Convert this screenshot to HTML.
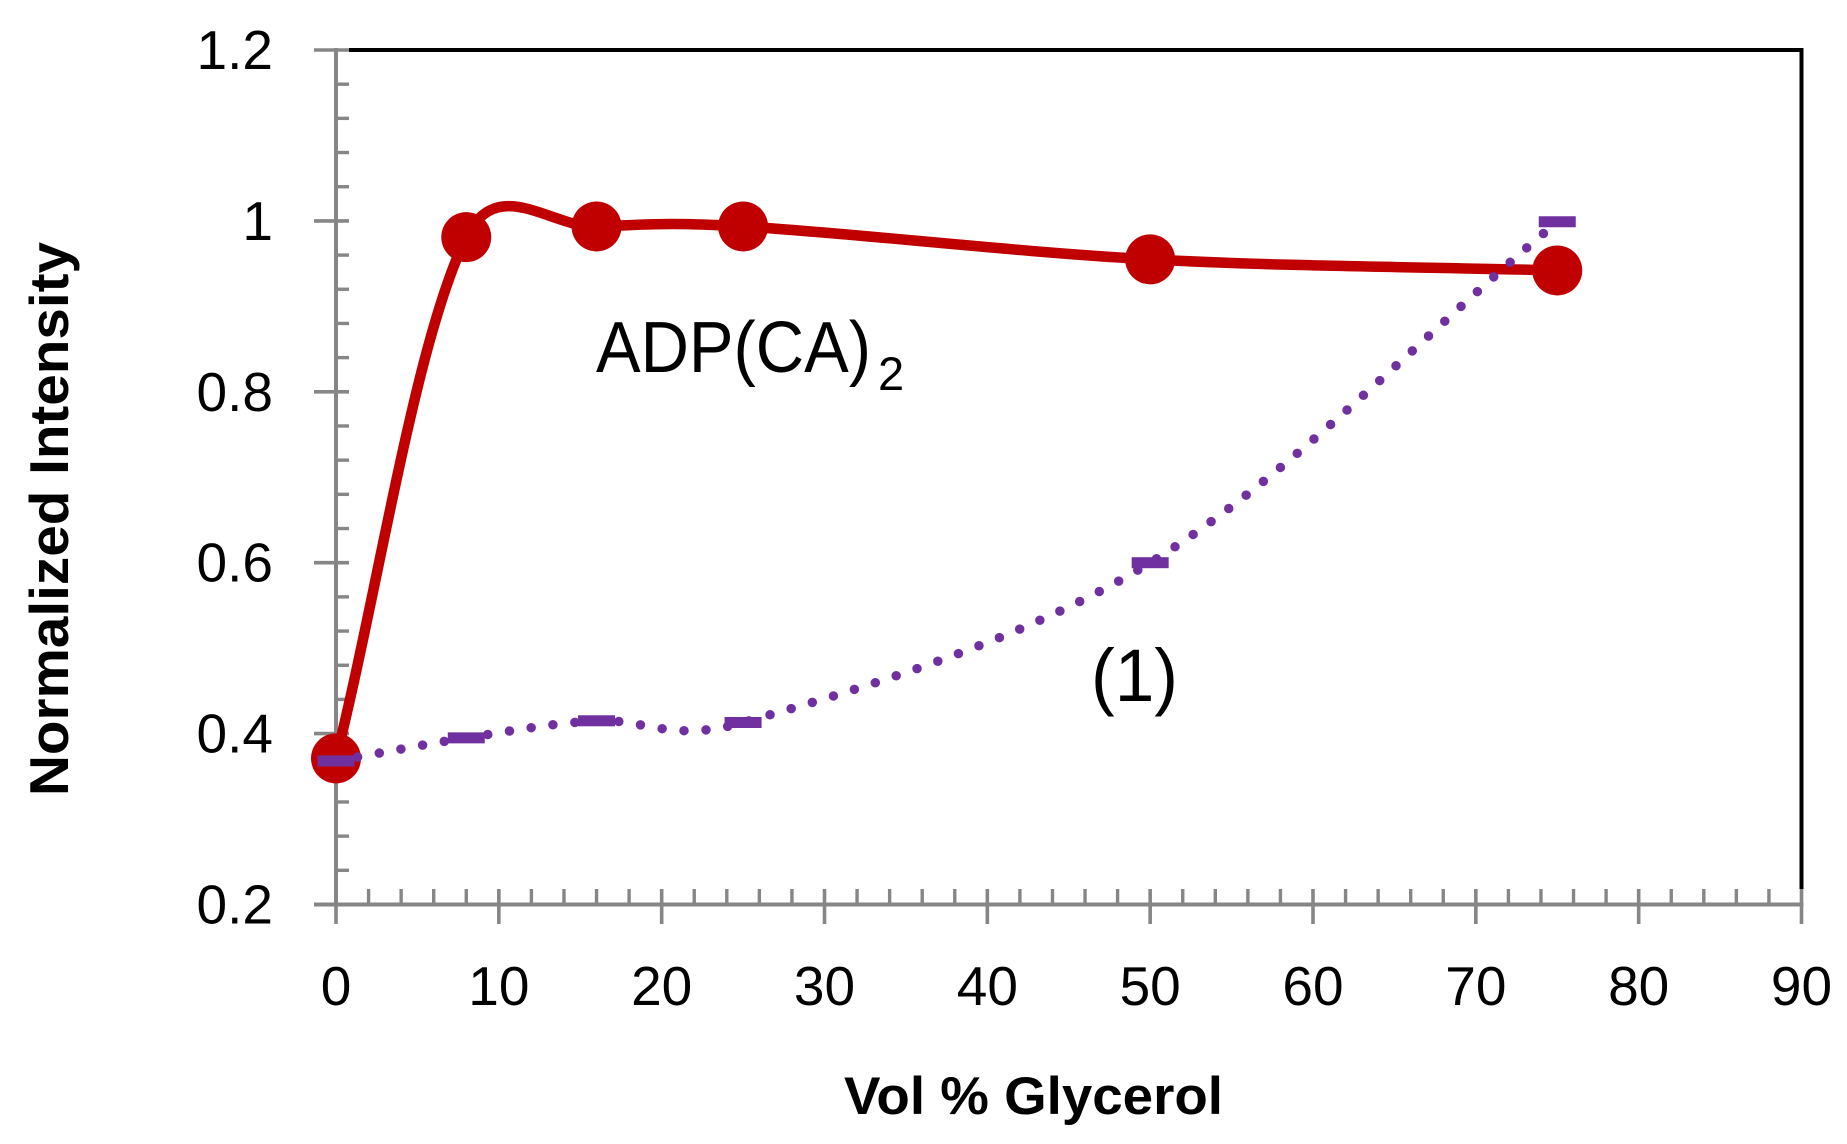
<!DOCTYPE html>
<html lang="en">
<head>
<meta charset="utf-8">
<title>Normalized Intensity vs Vol % Glycerol</title>
<style>
html,body{margin:0;padding:0;background:#fff;}
svg{display:block;}
text{font-family:"Liberation Sans",sans-serif;fill:#000;}
</style>
</head>
<body>
<svg id="chart" xmlns="http://www.w3.org/2000/svg" width="1847" height="1144" viewBox="0 0 1847 1144">
  <rect x="0" y="0" width="1847" height="1144" fill="#ffffff"/>
  <text transform="translate(68 519) rotate(-90)" text-anchor="middle" font-size="55" font-weight="bold" textLength="554" lengthAdjust="spacingAndGlyphs">Normalized Intensity</text>
  <text x="844" y="1114" font-size="53" font-weight="bold" textLength="379" lengthAdjust="spacingAndGlyphs">Vol % Glycerol</text>
  <text x="596" y="372" font-size="72" textLength="275" lengthAdjust="spacingAndGlyphs">ADP(CA)</text>
  <text x="878" y="390" font-size="47">2</text>
  <text x="1091" y="701" font-size="74" textLength="87" lengthAdjust="spacingAndGlyphs">(1)</text>
</svg>
<script>
const xValues = [0, 8, 16, 25, 50, 75];
const adpValues = [0.371, 0.981, 0.9935, 0.9935, 0.955, 0.942];
const compoundValues = [0.368, 0.395, 0.415, 0.413, 0.6, 0.999];
const xTickLabels = ["0", "10", "20", "30", "40", "50", "60", "70", "80", "90"];
const yTickLabels = ["0.2", "0.4", "0.6", "0.8", "1", "1.2"];

const svg = document.getElementById('chart');
const NS = 'http://www.w3.org/2000/svg';
const xMin = Number(xTickLabels[0]);
const xMax = Number(xTickLabels[xTickLabels.length - 1]);
const yMin = Number(yTickLabels[0]);
const yMax = Number(yTickLabels[yTickLabels.length - 1]);
const AXIS_GREY = '#868686';

function xScale(v) { return 336 + (v - xMin) / (xMax - xMin) * (1801.5 - 336); }
function yScale(v) { return 904.5 - (v - yMin) / (yMax - yMin) * (904.5 - 50); }

function mk(tag, attrs, text) {
  const el = document.createElementNS(NS, tag);
  for (const k in attrs) el.setAttribute(k, attrs[k]);
  if (text !== undefined) el.textContent = text;
  svg.appendChild(el);
  return el;
}

function smoothPath(pts) {
  const d = (a, b) => Math.hypot(b[0] - a[0], b[1] - a[1]);
  const n = pts.length;
  let out = 'M' + pts[0][0] + ' ' + pts[0][1];
  const weight = (own, other) => (1 / 6) * Math.pow(2 * own / (own + other), 0.35);
  for (let i = 0; i < n - 1; i++) {
    const p1 = pts[i], p2 = pts[i + 1];
    const seg = d(p1, p2);
    let c1, c2;
    if (i === 0) {
      c1 = [p1[0] + (p2[0] - p1[0]) / 3, p1[1] + (p2[1] - p1[1]) / 3];
    } else {
      const p0 = pts[i - 1];
      const k = weight(seg, d(p0, p1));
      c1 = [p1[0] + (p2[0] - p0[0]) * k, p1[1] + (p2[1] - p0[1]) * k];
    }
    if (i === n - 2) {
      c2 = [p2[0] - (p2[0] - p1[0]) / 3, p2[1] - (p2[1] - p1[1]) / 3];
    } else {
      const p3 = pts[i + 2];
      const k = weight(seg, d(p2, p3));
      c2 = [p2[0] - (p3[0] - p1[0]) * k, p2[1] - (p3[1] - p1[1]) * k];
    }
    out += ' C' + c1[0] + ' ' + c1[1] + ' ' + c2[0] + ' ' + c2[1] + ' ' + p2[0] + ' ' + p2[1];
  }
  return out;
}

/* top and right frame */
const frameTop = mk('line', {x1: 349, y1: yScale(yMax), x2: xScale(xMax) + 2, y2: yScale(yMax), stroke: '#000', 'stroke-width': 4});


const frameRight = mk('line', {x1: xScale(xMax), y1: yScale(yMax), x2: xScale(xMax), y2: 889, stroke: '#000', 'stroke-width': 4});



/* y axis */
const yAxis = mk('line', {x1: xScale(xMin), y1: yScale(yMax) - 2, x2: xScale(xMin), y2: yScale(yMin) + 2, stroke: AXIS_GREY, 'stroke-width': 4});


yTickLabels.forEach((label, i) => {
  const v = Number(label);
  const tick = mk('line', {x1: 314, y1: yScale(v), x2: 349, y2: yScale(v), stroke: AXIS_GREY, 'stroke-width': 3.6});
  
  
  const t = mk('text', {x: 273, y: yScale(v) + 19, 'text-anchor': 'end', 'font-size': 55}, label);
  
  
  if (i < yTickLabels.length - 1) {
    const step = (Number(yTickLabels[i + 1]) - v) / 5;
    for (let m = 1; m < 5; m++) {
      const minor = mk('line', {x1: 336, y1: yScale(v + step * m), x2: 349, y2: yScale(v + step * m), stroke: AXIS_GREY, 'stroke-width': 3.4});
      
      
    }
  }
});

/* x axis */
const xAxis = mk('line', {x1: 314, y1: yScale(yMin), x2: xScale(xMax) + 2, y2: yScale(yMin), stroke: AXIS_GREY, 'stroke-width': 4});


xTickLabels.forEach((label, i) => {
  const v = Number(label);
  const tick = mk('line', {x1: xScale(v), y1: 889, x2: xScale(v), y2: 924, stroke: AXIS_GREY, 'stroke-width': 3.6});
  
  
  const t = mk('text', {x: xScale(v), y: 1005, 'text-anchor': 'middle', 'font-size': 55}, label);
  
  
  if (i < xTickLabels.length - 1) {
    const step = (Number(xTickLabels[i + 1]) - v) / 5;
    for (let m = 1; m < 5; m++) {
      const minor = mk('line', {x1: xScale(v + step * m), y1: 889, x2: xScale(v + step * m), y2: 904, stroke: AXIS_GREY, 'stroke-width': 3.4});
      
      
    }
  }
});

/* ADP(CA)2 series */
const adpPts = xValues.map((x, i) => [xScale(x), yScale(adpValues[i])]);
const adpLine = mk('path', {d: smoothPath(adpPts), fill: 'none', stroke: '#c00000', 'stroke-width': 10.5, 'stroke-linecap': 'round', 'stroke-linejoin': 'round'});


adpPts.forEach((p) => {
  const dot = mk('circle', {cx: p[0], cy: p[1], r: 25, fill: '#c00000'});
  
  
});

/* compound (1) series */
const compoundPts = xValues.map((x, i) => [xScale(x), yScale(compoundValues[i])]);
const compoundLine = mk('path', {d: smoothPath(compoundPts), fill: 'none', stroke: '#7030a0', 'stroke-width': 9.5, 'stroke-linecap': 'round', 'stroke-dasharray': '0 22'});


compoundPts.forEach((p) => {
  const dash = mk('rect', {x: p[0] - 18.5, y: p[1] - 5.5, width: 37, height: 11, fill: '#7030a0'});
  
  
});
</script>
</body>
</html>
